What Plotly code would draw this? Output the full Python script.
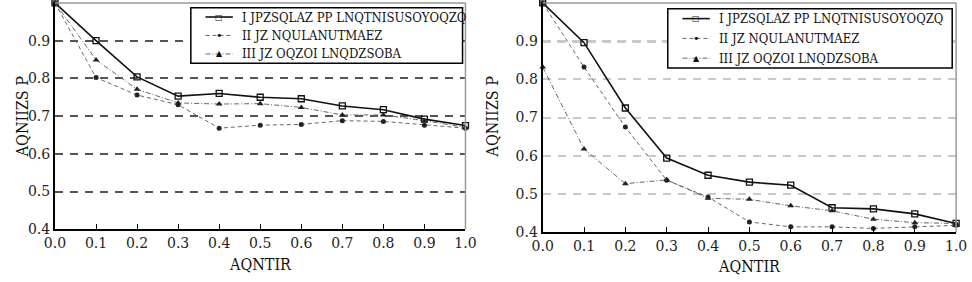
import plotly.graph_objects as go

x_vals = [0.0, 0.1, 0.2, 0.3, 0.4, 0.5, 0.6, 0.7, 0.8, 0.9, 1.0]
x_ticktext = ["0.0", "0.1", "0.2", "0.3", "0.4", "0.5", "0.6", "0.7", "0.8", "0.9", "1.0"]
y_tickvals = [0.4, 0.5, 0.6, 0.7, 0.8, 0.9, 1.0]
y_ticktext = ["0.4", "0.5", "0.6", "0.7", "0.8", "0.9", "1.0"]

series_names = [
    "I JPZSQLAZ PP LNQTNISUSOYOQZQ",
    "II JZ NQULANUTMAEZ",
    "III JZ OQZOI LNQDZSOBA",
]

left_s1 = [1.0, 0.900, 0.804, 0.753, 0.760, 0.750, 0.746, 0.727, 0.717, 0.692, 0.675]
left_s2 = [1.0, 0.802, 0.756, 0.730, 0.668, 0.676, 0.678, 0.688, 0.686, 0.676, 0.668]
left_s3 = [1.0, 0.849, 0.771, 0.735, 0.732, 0.733, 0.723, 0.703, 0.703, 0.688, 0.670]

right_s1 = [1.0, 0.896, 0.725, 0.594, 0.549, 0.531, 0.523, 0.464, 0.461, 0.448, 0.423]
right_s2 = [1.0, 0.832, 0.675, 0.536, 0.492, 0.427, 0.414, 0.414, 0.410, 0.414, 0.418]
right_s3 = [0.832, 0.618, 0.527, 0.537, 0.489, 0.486, 0.469, 0.456, 0.434, 0.425, 0.423]

x_title = "AQNTIR"
y_title = "AQNIIZS P"

styles = [
    dict(line=dict(color="#111", width=1.6, dash="solid"),
         marker=dict(symbol="square-open", size=6, color="#111", line=dict(width=1.3))),
    dict(line=dict(color="#666", width=1, dash="4px,3px"),
         marker=dict(symbol="circle", size=5, color="#222")),
    dict(line=dict(color="#666", width=1, dash="5px,2px,1px,2px"),
         marker=dict(symbol="triangle-up", size=6, color="#222")),
]

fig = go.Figure()
for axis_suffix, data in [("", [left_s1, left_s2, left_s3]), ("2", [right_s1, right_s2, right_s3])]:
    for i, ys in enumerate(data):
        fig.add_trace(go.Scatter(
            x=x_vals, y=ys, mode="lines+markers", name=series_names[i],
            xaxis="x" + axis_suffix, yaxis="y" + axis_suffix,
            line=styles[i]["line"], marker=styles[i]["marker"],
            showlegend=False, cliponaxis=False,
        ))

font_family = "DejaVu Serif"
narrow_family = "DejaVu Serif Condensed"
axis_common = dict(
    showline=True, linecolor="black", linewidth=2,
    tickfont=dict(family=font_family, size=14, color="#222"),
    zeroline=False,
)
xdom1 = [45 / 972, 465 / 972]
xdom2 = [544 / 972, 967 / 972]
ydom1 = [1 - 236 / 282, 1 - 3 / 282]
ydom2 = [1 - 239 / 282, 1 - 3 / 282]

fig.update_layout(
    width=972, height=282, margin=dict(l=0, r=0, t=0, b=0),
    paper_bgcolor="white", plot_bgcolor="white",
    showlegend=False,
    xaxis=dict(domain=xdom1, range=[0, 1], tickvals=x_vals, ticktext=x_ticktext,
               ticks="inside", ticklen=5, tickcolor="black", showgrid=False, anchor="y", **axis_common),
    yaxis=dict(domain=ydom1, range=[0.4, 1.0], tickvals=y_tickvals, ticktext=y_ticktext,
               ticks="", showgrid=True, gridcolor="#555", gridwidth=2, griddash="8px,7px",
               anchor="x", **axis_common),
    xaxis2=dict(domain=xdom2, range=[0, 1], tickvals=x_vals, ticktext=x_ticktext,
                ticks="inside", ticklen=5, tickcolor="black", showgrid=False, anchor="y2", **axis_common),
    yaxis2=dict(domain=ydom2, range=[0.4, 1.0], tickvals=y_tickvals, ticktext=y_ticktext,
                ticks="", showgrid=True, gridcolor="#c8c8c8", gridwidth=1.5, griddash="8px,7px",
                anchor="x2", **axis_common),
)

# dark gridline at 0.9 on the right panel, and grey top/right borders
shapes = [
    dict(type="line", xref="x2 domain", yref="y2", x0=0, x1=1, y0=y_tickvals[5], y1=y_tickvals[5],
         line=dict(color="#222", width=2, dash="8px,7px"), layer="below"),
]
for xr, yr in [("x domain", "y domain"), ("x2 domain", "y2 domain")]:
    shapes.append(dict(type="line", xref=xr, yref=yr, x0=0, x1=1, y0=1, y1=1,
                       line=dict(color="#999", width=1.5)))
    shapes.append(dict(type="line", xref=xr, yref=yr, x0=1, x1=1, y0=0, y1=1,
                       line=dict(color="#999", width=1.5)))

# legend boxes drawn as shapes + annotations
legend_boxes = [
    dict(x0=184, x1=462, y0=8, y1=65),
    dict(x0=672, x1=963, y0=9, y1=70),
]
annotations = []
for b in legend_boxes:
    shapes.append(dict(type="rect", xref="paper", yref="paper",
                       x0=b["x0"] / 972, x1=b["x1"] / 972,
                       y0=1 - b["y1"] / 282, y1=1 - b["y0"] / 282,
                       line=dict(color="black", width=1.5), fillcolor="white", layer="above"))
    h = (b["y1"] - b["y0"]) / 3
    for i in range(3):
        yc = b["y0"] + h * (i + 0.5)
        sx0 = b["x0"] + 15
        sx1 = b["x0"] + 43
        st = styles[i]
        shapes.append(dict(type="line", xref="paper", yref="paper",
                           x0=sx0 / 972, x1=sx1 / 972, y0=1 - yc / 282, y1=1 - yc / 282,
                           line=dict(color=st["line"]["color"], width=st["line"]["width"],
                                     dash=st["line"]["dash"]), layer="above"))
        annotations.append(dict(xref="paper", yref="paper", x=(sx0 + sx1) / 2 / 972, y=1 - yc / 282,
                                text={"square-open": "□", "circle": "•", "triangle-up": "▲"}[st["marker"]["symbol"]],
                                showarrow=False, font=dict(size=8 if i != 1 else 11, color="#111", family="DejaVu Sans"),
                                xanchor="center", yanchor="middle"))
        annotations.append(dict(xref="paper", yref="paper", x=(b["x0"] + 50) / 972, y=1 - yc / 282,
                                text=series_names[i], showarrow=False, xanchor="left", yanchor="middle",
                                font=dict(family=narrow_family, size=13, color="#111")))

# axis titles
for xc, yb in [((45 + 465) / 2, 272), ((544 + 967) / 2, 274)]:
    annotations.append(dict(xref="paper", yref="paper", x=xc / 972, y=1 - yb / 282, text=x_title,
                            showarrow=False, font=dict(family=narrow_family, size=16, color="#111"),
                            xanchor="center", yanchor="middle"))
for xc in [12, 493]:
    annotations.append(dict(xref="paper", yref="paper", x=xc / 972, y=1 - 120 / 282, text=y_title,
                            showarrow=False, textangle=-90,
                            font=dict(family=narrow_family, size=16, color="#111"),
                            xanchor="center", yanchor="middle"))

fig.update_layout(shapes=shapes, annotations=annotations)
fig.write_html("out.html")
